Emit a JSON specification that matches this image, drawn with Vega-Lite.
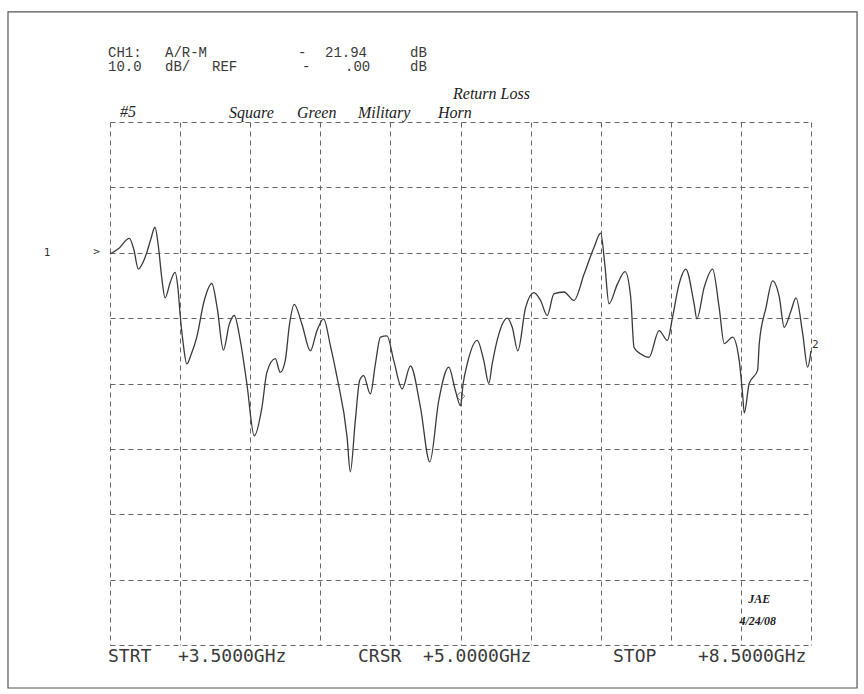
{
  "$schema": "https://vega.github.io/schema/vega-lite/v6.json",
  "width": 701,
  "height": 523,
  "autosize": {"type": "none"},
  "padding": {"left": 110, "top": 122, "right": 53, "bottom": 49},
  "background": "white",
  "config": {"view": {"stroke": null}},
  "datasets": {
    "trace": [
      {"f":3.5,"db":-0.2},{"f":3.56,"db":0.6},{"f":3.638,"db":2.2},{"f":3.67,"db":0.5},{"f":3.702,"db":-2.5},{"f":3.735,"db":-1.5},{"f":3.762,"db":0.0},{"f":3.79,"db":2.0},{"f":3.821,"db":3.9},{"f":3.845,"db":1.0},{"f":3.869,"db":-3.8},{"f":3.893,"db":-6.9},{"f":3.93,"db":-4.5},{"f":3.964,"db":-3.0},{"f":3.985,"db":-5.5},{"f":4.0,"db":-9.4},{"f":4.02,"db":-13.5},{"f":4.048,"db":-17.0},{"f":4.08,"db":-15.5},{"f":4.119,"db":-12.9},{"f":4.17,"db":-7.5},{"f":4.226,"db":-4.7},{"f":4.265,"db":-8.5},{"f":4.309,"db":-14.9},{"f":4.35,"db":-11.0},{"f":4.386,"db":-9.6},{"f":4.43,"db":-13.5},{"f":4.476,"db":-20.0},{"f":4.529,"db":-28.0},{"f":4.584,"db":-23.6},{"f":4.619,"db":-18.3},{"f":4.679,"db":-16.2},{"f":4.714,"db":-18.3},{"f":4.75,"db":-16.5},{"f":4.78,"db":-11.0},{"f":4.814,"db":-7.9},{"f":4.87,"db":-11.0},{"f":4.929,"db":-15.0},{"f":4.975,"db":-12.0},{"f":5.024,"db":-10.1},{"f":5.07,"db":-14.0},{"f":5.119,"db":-19.0},{"f":5.191,"db":-28.2},{"f":5.214,"db":-33.5},{"f":5.25,"db":-25.6},{"f":5.281,"db":-19.5},{"f":5.309,"db":-18.8},{"f":5.357,"db":-21.6},{"f":5.393,"db":-17.0},{"f":5.429,"db":-12.9},{"f":5.476,"db":-12.7},{"f":5.524,"db":-16.5},{"f":5.584,"db":-20.8},{"f":5.643,"db":-17.3},{"f":5.714,"db":-23.6},{"f":5.781,"db":-32.0},{"f":5.845,"db":-22.6},{"f":5.916,"db":-17.5},{"f":5.964,"db":-21.1},{"f":6.0,"db":-23.4},{"f":6.019,"db":-20.0},{"f":6.048,"db":-17.0},{"f":6.119,"db":-13.4},{"f":6.166,"db":-16.5},{"f":6.202,"db":-20.0},{"f":6.226,"db":-17.0},{"f":6.274,"db":-12.4},{"f":6.334,"db":-10.0},{"f":6.369,"db":-11.4},{"f":6.409,"db":-15.0},{"f":6.464,"db":-8.4},{"f":6.524,"db":-6.1},{"f":6.571,"db":-7.3},{"f":6.619,"db":-9.6},{"f":6.666,"db":-6.3},{"f":6.738,"db":-6.0},{"f":6.809,"db":-7.3},{"f":6.881,"db":-3.3},{"f":6.952,"db":0.8},{"f":7.0,"db":3.0},{"f":7.029,"db":-1.7},{"f":7.059,"db":-7.8},{"f":7.119,"db":-4.8},{"f":7.174,"db":-2.9},{"f":7.214,"db":-6.8},{"f":7.238,"db":-14.5},{"f":7.286,"db":-15.5},{"f":7.345,"db":-16.0},{"f":7.416,"db":-11.9},{"f":7.476,"db":-13.4},{"f":7.512,"db":-9.9},{"f":7.559,"db":-4.8},{"f":7.607,"db":-2.5},{"f":7.666,"db":-7.8},{"f":7.686,"db":-10.1},{"f":7.738,"db":-5.3},{"f":7.798,"db":-2.5},{"f":7.845,"db":-8.4},{"f":7.881,"db":-13.9},{"f":7.941,"db":-12.9},{"f":7.988,"db":-16.5},{"f":8.012,"db":-21.6},{"f":8.024,"db":-24.5},{"f":8.059,"db":-20.0},{"f":8.119,"db":-18.0},{"f":8.131,"db":-13.9},{"f":8.179,"db":-8.4},{"f":8.226,"db":-4.3},{"f":8.274,"db":-6.8},{"f":8.309,"db":-11.4},{"f":8.357,"db":-8.9},{"f":8.393,"db":-6.9},{"f":8.441,"db":-12.4},{"f":8.476,"db":-17.5},{"f":8.5,"db":-15.0}
    ],
    "header": [
      {"t":"CH1:","f":3.4857,"db":30.6},{"t":"A/R-M","f":3.8923,"db":30.6},{"t":"-","f":4.841,"db":30.6},{"t":"21.94","f":5.0336,"db":30.6},{"t":"dB","f":5.64,"db":30.6},
      {"t":"10.0","f":3.4857,"db":28.35},{"t":"dB/","f":3.8923,"db":28.35},{"t":"REF","f":4.2276,"db":28.35},{"t":"-","f":4.8696,"db":28.35},{"t":".00","f":5.176,"db":28.35},{"t":"dB","f":5.64,"db":28.35}
    ],
    "footer": [
      {"t":"STRT","f":3.4857,"db":-61.76},{"t":"+3.5000GHz","f":3.985,"db":-61.76},{"t":"CRSR","f":5.269,"db":-61.76},{"t":"+5.0000GHz","f":5.733,"db":-61.76},{"t":"STOP","f":7.088,"db":-61.76},{"t":"+8.5000GHz","f":7.694,"db":-61.76}
    ],
    "hand": [
      {"t":"Return Loss","f":5.9466,"db":24.28},{"t":"#5","f":3.5713,"db":21.6},{"t":"Square","f":4.3488,"db":21.4},{"t":"Green","f":4.8339,"db":21.4},{"t":"Military","f":5.269,"db":21.4},{"t":"Horn","f":5.8396,"db":21.4}
    ],
    "sig": [
      {"t":"JAE","f":8.13,"db":-53.0},{"t":"4/24/08","f":8.12,"db":-56.4}
    ],
    "marks": [
      {"t":"1","f":3.0506,"db":0.0},{"t":">","f":3.405,"db":0.1},{"t":"2","f":8.53,"db":-14.1}
    ],
    "cursor": [{"f":6.0,"db":-21.94}]
  },
  "layer": [
    {
      "data": {"values": [{}]},
      "mark": {"type": "rect", "fill": null, "stroke": "#555", "strokeWidth": 1.2, "clip": false},
      "encoding": {
        "x": {"datum": 2.7724, "type": "quantitative"},
        "x2": {"datum": 8.8284},
        "y": {"datum": 36.83, "type": "quantitative"},
        "y2": {"datum": -66.58}
      }
    },
    {
      "data": {"name": "trace"},
      "mark": {"type": "line", "color": "#3a3a3a", "strokeWidth": 1.3, "interpolate": "monotone", "clip": false},
      "encoding": {
        "x": {
          "field": "f", "type": "quantitative",
          "scale": {"domain": [3.5, 8.5], "nice": false, "zero": false},
          "axis": {"values": [3.5,4,4.5,5,5.5,6,6.5,7,7.5,8,8.5], "grid": true, "labels": false, "ticks": false, "domain": false, "title": null, "gridColor": "#666", "gridDash": [5, 4], "gridWidth": 1, "gridOpacity": 1}
        },
        "y": {
          "field": "db", "type": "quantitative",
          "scale": {"domain": [-60, 20], "nice": false, "zero": false},
          "axis": {"values": [-60,-50,-40,-30,-20,-10,0,10,20], "grid": true, "labels": false, "ticks": false, "domain": false, "title": null, "gridColor": "#666", "gridDash": [5, 4], "gridWidth": 1, "gridOpacity": 1}
        }
      }
    },
    {
      "data": {"name": "cursor"},
      "mark": {"type": "point", "shape": "diamond", "filled": false, "size": 70, "color": "#444", "strokeWidth": 1},
      "encoding": {"x": {"field": "f", "type": "quantitative"}, "y": {"field": "db", "type": "quantitative"}}
    },
    {
      "data": {"name": "header"},
      "mark": {"type": "text", "font": "Liberation Mono", "fontSize": 14, "align": "left", "baseline": "middle", "color": "#3a3a3a", "clip": false},
      "encoding": {"x": {"field": "f", "type": "quantitative"}, "y": {"field": "db", "type": "quantitative"}, "text": {"field": "t"}}
    },
    {
      "data": {"name": "footer"},
      "mark": {"type": "text", "font": "DejaVu Sans Mono", "fontSize": 18, "align": "left", "baseline": "middle", "color": "#3a3a3a", "clip": false},
      "encoding": {"x": {"field": "f", "type": "quantitative"}, "y": {"field": "db", "type": "quantitative"}, "text": {"field": "t"}}
    },
    {
      "data": {"name": "hand"},
      "mark": {"type": "text", "font": "Liberation Serif", "fontStyle": "italic", "fontSize": 16, "align": "left", "baseline": "middle", "color": "#222", "clip": false},
      "encoding": {"x": {"field": "f", "type": "quantitative"}, "y": {"field": "db", "type": "quantitative"}, "text": {"field": "t"}}
    },
    {
      "data": {"name": "sig"},
      "mark": {"type": "text", "font": "Liberation Serif", "fontStyle": "italic", "fontWeight": "bold", "fontSize": 12, "align": "center", "baseline": "middle", "color": "#222", "clip": false},
      "encoding": {"x": {"field": "f", "type": "quantitative"}, "y": {"field": "db", "type": "quantitative"}, "text": {"field": "t"}}
    },
    {
      "data": {"name": "marks"},
      "mark": {"type": "text", "font": "DejaVu Sans Mono", "fontSize": 11, "align": "center", "baseline": "middle", "color": "#333", "clip": false},
      "encoding": {"x": {"field": "f", "type": "quantitative"}, "y": {"field": "db", "type": "quantitative"}, "text": {"field": "t"}}
    }
  ]
}
